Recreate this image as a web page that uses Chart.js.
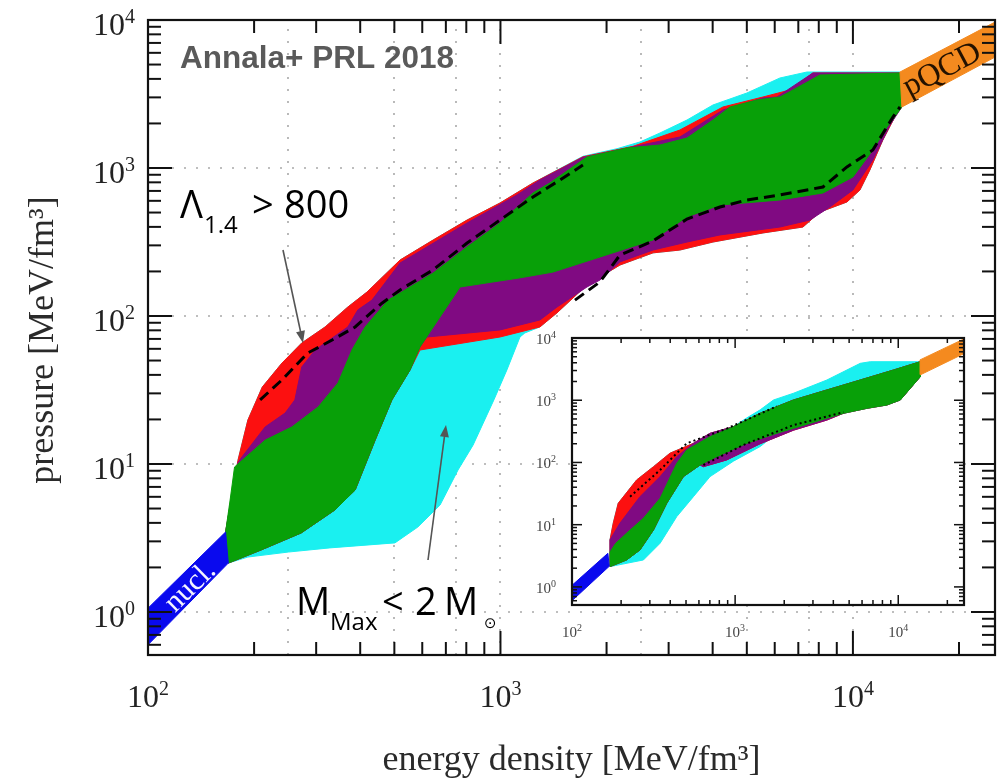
<!DOCTYPE html>
<html>
<head>
<meta charset="utf-8">
<script src="https://cdn.jsdelivr.net/npm/chart.js@4.4.0/dist/chart.umd.min.js"></script>
<style>
  html, body { margin: 0; padding: 0; background: #fff; }
  #wrap { position: relative; width: 1003px; height: 781px; }
  #main { position: absolute; left: 0; top: 0; }
  #inset { position: absolute; left: 520px; top: 322px; }
</style>
</head>
<body>
<div id="wrap">
  <canvas id="main" width="1003" height="781"></canvas>
  <canvas id="inset" width="460" height="330"></canvas>
</div>
<script>
// energy density e [MeV/fm^3] vs pressure p [MeV/fm^3]
const xGrid = [250, 500, 750, 1000, 2500, 5000, 7500, 10000];
const yGrid = [1, 10, 100, 1000];
const xDecades = [2, 3, 4];
const yDecades = [0, 1, 2, 3, 4];

const nuclE = [100, 166, 169, 100];
const nuclP = [1.06, 3.47, 2.14, 0.60];
const pqcdE = [13600, 27000, 27000, 13770];
const pqcdP = [4450, 10500, 6100, 2584];

// main panel bands (closed outlines)
const cyanE = [166,174,180,192,211,240,273,318,369,418,519,644,804,997,1237,1714,2141,2487,2835,3382,4007,5002,6207,7405,13600,13770,13330,12160,11170,10470,9616,8062,7214,5556,4007,3229,2709,2183,1760,1447,1294,1173,1136,1043,958,836,758,674,583,502,328,250,192,169];
const cyanP = [3.47,6.67,10.6,19.8,33.1,48.1,65.7,84.3,115,145,239,326,445,580,792,1200,1350,1499,1724,2110,2665,3212,4056,4452,4452,2584,2353,1546,969,710,589,504,399,364,316,279,267,221,162,105,84.3,76.8,72.1,43.2,27.1,13.4,9.11,5.28,3.75,2.93,2.71,2.54,2.35,2.14];

const redE = [166,174,180,192,211,240,273,318,369,418,519,644,804,997,1237,1714,2376,3229,4279,5556,6626,7701,13600,13770,13330,12160,11170,10470,9616,8062,7214,5556,4007,3229,2709,2183,1760,1447,1294,997,591,554,492,441,387,339,272,209,169];
const redP = [3.47,6.67,10.6,19.8,33.1,48.1,65.7,84.3,115,145,239,326,445,580,792,1190,1400,1806,2584,3018,3365,4385,4385,2584,2353,1546,969,710,589,504,399,364,316,279,267,221,162,105,84.3,72.1,58.9,43.2,27.1,14.5,6.67,4.89,3.42,2.62,2.14];

const purpleE = [166,174,180,185,215,245,261,273,298,369,394,432,519,804,1114,1294,1714,2376,3229,4279,5556,6086,7701,13600,13770,12740,11390,10000,8606,7551,6207,4196,3382,2709,2183,1916,1760,1447,1294,997,619,591,554,492,441,387,339,272,209,169];
const purpleP = [3.47,6.67,10.2,11.2,17.8,22.1,27.1,45.2,58.9,84.3,110,128,228,425,657,830,1180,1390,1620,2466,2972,3018,4385,4385,2584,1952,1133,710,545,445,399,353,316,279,232,175,157,115,94,80.5,72.1,61.7,43.2,27.1,14.5,6.67,4.89,3.42,2.62,2.14];

const greenE = [166,171,176,215,256,304,346,379,413,480,519,644,804,997,1237,1381,1760,2285,2835,3382,4007,4479,5343,6207,6757,8062,13600,13770,12490,11390,10000,8222,6207,4196,3382,2709,2085,1409,1136,768,591,554,492,441,387,339,272,209,169];
const greenP = [3.47,5.71,9.54,14.5,17.8,24.3,35.3,58.9,84.3,128,143,195,293,425,678,792,1187,1365,1430,1594,2110,2584,2880,3018,3365,4250,4385,2584,1892,1323,869,678,608,562,467,326,267,198,181,157,61.7,43.2,27.1,14.5,6.67,4.89,3.42,2.62,2.14];

// tidal deformability contour (dashed)
const lamUpE = [208,240,284,333,387,461,519,644,804,997,1237,1475,1714];
const lamUpP = [27.1,37.0,56.2,68.8,84.3,122,150,205,311,445,637,830,1048];
const lamLowE = [1627,1916,2183,2709,3382,4196,5002,6207,8222,9616,11390,12990,13600];
const lamLowP = [128,170,258,321,452,545,608,657,744,1016,1323,2211,2584];

// inset panel bands
const iCyanE = [171,171,179,192,249,316,399,555,702,977,1179,1424,1719,2279,3651,5848,6733,13650,13650,10290,8526,6424,4618,2885,1802,1424,977,702,555,439,347,274,171];
const iCyanP = [3.65,5.7,10.6,22.1,52.3,85.6,141,203,294,376,520,700,1009,1294,2113,3917,4159,4159,2390,1009,839,741,617,426,294,180,105,59.2,28.2,13.5,5.04,2.71,2.12];
const iRedE = [171,171,179,192,249,316,399,555,702,977,1424,2279,3651,5848,9359,13650,13650,10290,8526,6424,4618,3651,2279,1424,889,639,610,482,381,316,261,216,171];
const iRedP = [3.65,5.7,10.6,22.1,52.3,85.6,141,203,294,376,617,1009,1462,2113,3062,4159,2390,1009,839,741,617,480,330,200,110,85.6,91,59.2,22.1,8.24,3.93,2.71,2.12];
const iPurpleE = [171,171,197,261,347,439,555,702,977,1424,2279,3651,5848,9359,13650,13650,10290,8526,6424,4618,3651,2279,1424,889,639,610,482,381,316,261,216,171];
const iPurpleP = [3.65,5.7,10.6,28.2,59.2,124,203,294,376,617,1009,1462,2113,3062,4159,2390,1009,839,741,617,480,330,200,110,85.6,91,59.2,22.1,8.24,3.93,2.71,2.12];
const iGreenE = [171,185,216,274,347,439,505,702,977,1424,2279,3651,5848,9359,13650,13650,10290,8526,6424,4618,2885,1802,1179,772,610,482,381,316,261,216,171];
const iGreenP = [3.65,5.0,7.3,12.7,26.6,97,159,260,376,617,1009,1462,2113,3062,4159,2390,1009,839,741,617,426,294,203,124,91,59.2,22.1,8.24,3.93,2.71,2.12];
const iLamUpE = [227,347,505,889,1802];
const iLamUpP = [28.2,75.8,203,350,800];
const iLamLowE = [639,1125,2279,4618];
const iLamLowP = [91,191,400,640];

const C = {
  cyan: '#1af0f0', red: '#fc1010', purple: '#800a82', green: '#08a008',
  blue: '#0a0aee', orange: '#f48a1f'
};
const serif = '"Liberation Serif", "Times New Roman", serif';
const sans = '"Open Sans", "Noto Sans", sans-serif';

const pts = (E, P) => E.map((e, i) => ({ x: e, y: P[i] }));

function band(E, P, color, order) {
  const d = pts(E, P);
  d.push(d[0]);
  return {
    data: d, fill: 'shape', backgroundColor: color, borderColor: color,
    borderWidth: 1, pointRadius: 0, tension: 0, order
  };
}

function contour(E, P, width, dash) {
  return {
    data: pts(E, P), fill: false, borderColor: '#000', borderWidth: width,
    borderDash: dash, pointRadius: 0, tension: 0, order: 0
  };
}

function logTicks(min, max) {
  const out = [];
  for (let d = Math.floor(Math.log10(min)); d <= Math.ceil(Math.log10(max)); d++) {
    for (let m = 1; m <= 9; m++) {
      const v = m * Math.pow(10, d);
      if (v >= min * 0.999 && v <= max * 1.001) out.push({ v, major: m === 1 });
    }
  }
  return out;
}

function seg(ctx, x0, y0, x1, y1) {
  ctx.beginPath(); ctx.moveTo(x0, y0); ctx.lineTo(x1, y1); ctx.stroke();
}

function powLabel(ctx, exp, x, y, align, f) {
  ctx.font = f.base + 'px ' + serif;
  const w1 = ctx.measureText('10').width;
  ctx.font = f.sup + 'px ' + serif;
  const w2 = ctx.measureText(String(exp)).width;
  const left = align === 'right' ? x - w1 - w2 : x - (w1 + w2) / 2;
  ctx.textAlign = 'left';
  ctx.textBaseline = 'alphabetic';
  ctx.font = f.base + 'px ' + serif;
  ctx.fillText('10', left, y);
  ctx.font = f.sup + 'px ' + serif;
  ctx.fillText(String(exp), left + w1, y - f.rise);
}

// grid, inward ticks, frame and power-of-ten labels
function frame(s) {
  return {
    id: 'logframe',
    beforeDatasetsDraw(chart) {
      const { ctx, chartArea: a, scales: { x, y } } = chart;
      ctx.save();
      if (s.background) {
        ctx.fillStyle = s.background;
        ctx.fillRect(a.left, a.top, a.right - a.left, a.bottom - a.top);
      }
      if (s.grid) {
        ctx.strokeStyle = '#a9a9a9';
        ctx.lineWidth = 1.6;
        ctx.setLineDash([2, 10]);
        xGrid.forEach(v => {
          const p = Math.round(x.getPixelForValue(v));
          seg(ctx, p, a.bottom, p, a.top);
        });
        yGrid.forEach(v => {
          const p = Math.round(y.getPixelForValue(v));
          seg(ctx, a.left, p, a.right, p);
        });
      }
      ctx.restore();
    },
    afterDraw(chart) {
      const { ctx, chartArea: a, scales: { x, y } } = chart;
      ctx.save();
      ctx.strokeStyle = '#111';
      ctx.lineWidth = s.tickWidth;
      logTicks(x.min, x.max).forEach(t => {
        const p = x.getPixelForValue(t.v), L = t.major ? s.major : s.minor;
        seg(ctx, p, a.bottom, p, a.bottom - L);
        seg(ctx, p, a.top, p, a.top + L);
      });
      logTicks(y.min, y.max).forEach(t => {
        const p = y.getPixelForValue(t.v), L = t.major ? s.major : s.minor;
        seg(ctx, a.left, p, a.left + L, p);
        seg(ctx, a.right, p, a.right - L, p);
      });
      ctx.lineWidth = s.frameWidth;
      ctx.strokeRect(a.left, a.top, a.right - a.left, a.bottom - a.top);

      ctx.fillStyle = s.labelColor;
      xDecades.forEach(d => powLabel(ctx, d, x.getPixelForValue(Math.pow(10, d)), a.bottom + s.xLabelDy, 'center', s.font));
      yDecades.forEach(d => powLabel(ctx, d, a.left - s.yLabelDx, y.getPixelForValue(Math.pow(10, d)) + s.yLabelDy, 'right', s.font));
      ctx.restore();
    }
  };
}

function arrow(ctx, x0, y0, x1, y1) {
  const ang = Math.atan2(y1 - y0, x1 - x0), L = 12, W = 4.5;
  const c = Math.cos(ang), sn = Math.sin(ang);
  seg(ctx, x0, y0, x1 - L * 0.7 * c, y1 - L * 0.7 * sn);
  ctx.beginPath();
  ctx.moveTo(x1, y1);
  ctx.lineTo(x1 - L * c + W * sn, y1 - L * sn - W * c);
  ctx.lineTo(x1 - L * c - W * sn, y1 - L * sn + W * c);
  ctx.closePath();
  ctx.fill();
}

function text(ctx, str, x, y, size, font, color) {
  ctx.font = size + 'px ' + font;
  ctx.fillStyle = color;
  ctx.textAlign = 'left';
  ctx.textBaseline = 'alphabetic';
  ctx.fillText(str, x, y);
}

// labels that belong to the main panel only
const notes = {
  id: 'notes',
  afterDraw(chart) {
    const { ctx, chartArea: a, scales: { x, y } } = chart;
    ctx.save();

    // band names, rotated along each band
    ctx.beginPath();
    ctx.rect(a.left, a.top, a.right - a.left, a.bottom - a.top);
    ctx.clip();
    const nx = nuclE.map(v => x.getPixelForValue(v)), ny = nuclP.map(v => y.getPixelForValue(v));
    const cx = (nx[0] + nx[1] + nx[2] + nx[3]) / 4, cy = (ny[0] + ny[1] + ny[2] + ny[3]) / 4;
    ctx.translate(cx + 3, cy);
    ctx.rotate(Math.atan2(ny[1] - ny[0], nx[1] - nx[0]));
    ctx.font = '30px ' + serif;
    ctx.fillStyle = '#f4f4ff';
    ctx.textAlign = 'center';
    ctx.textBaseline = 'middle';
    ctx.fillText('nucl.', 0, 0);
    ctx.setTransform(1, 0, 0, 1, 0, 0);

    const qx = pqcdE.map(v => x.getPixelForValue(v)), qy = pqcdP.map(v => y.getPixelForValue(v));
    const qa = Math.atan2(qy[1] - qy[0], qx[1] - qx[0]);
    ctx.translate((qx[0] + qx[3]) / 2 + 4 * Math.cos(qa), (qy[0] + qy[3]) / 2 + 4 * Math.sin(qa));
    ctx.rotate(qa);
    ctx.font = '32px ' + serif;
    ctx.fillStyle = '#241200';
    ctx.textAlign = 'left';
    ctx.textBaseline = 'middle';
    ctx.fillText('pQCD', 0, 2);
    ctx.restore();
    ctx.save();

    text(ctx, 'Annala+ PRL 2018', 180, 68, 'bold 31.5', '"Liberation Sans", Arial, sans-serif', '#5a5a5a');

    text(ctx, 'Λ', 180, 218, 38, sans, '#000');
    text(ctx, '1.4', 204, 233, 24, sans, '#000');
    text(ctx, '>', 252, 218, 38, sans, '#000');
    text(ctx, '800', 284, 218, 38, sans, '#000');

    text(ctx, 'M', 296, 615, 38, sans, '#000');
    text(ctx, 'Max', 330, 630, 24, sans, '#000');
    text(ctx, '<', 382, 615, 38, sans, '#000');
    text(ctx, '2', 415, 615, 38, sans, '#000');
    text(ctx, 'M', 444, 615, 38, sans, '#000');
    text(ctx, '⊙', 484, 628, 15, '"DejaVu Sans", sans-serif', '#000');

    ctx.strokeStyle = '#555';
    ctx.fillStyle = '#555';
    ctx.lineWidth = 1.6;
    arrow(ctx, 283, 250, 303, 343);
    arrow(ctx, 428, 560, 446, 425);

    // axis titles
    ctx.fillStyle = '#2a2a2a';
    ctx.font = '36px ' + serif;
    ctx.textAlign = 'center';
    ctx.textBaseline = 'alphabetic';
    ctx.fillText('energy density [MeV/fm³]', (a.left + a.right) / 2, 770);
    ctx.translate(53, 340);
    ctx.rotate(-Math.PI / 2);
    ctx.fillText('pressure [MeV/fm³]', 0, 0);
    ctx.restore();
  }
};

function panel(canvas, sets, padding, style, extra) {
  return new Chart(canvas, {
    type: 'line',
    data: { datasets: sets },
    options: {
      responsive: false,
      animation: false,
      devicePixelRatio: 1,
      events: [],
      layout: { padding },
      plugins: { legend: { display: false }, tooltip: { enabled: false } },
      scales: {
        x: { type: 'logarithmic', min: 100, max: 25300, display: false },
        y: { type: 'logarithmic', min: 0.512, max: 10000, display: false }
      }
    },
    plugins: [frame(style)].concat(extra)
  });
}

panel(document.getElementById('main'), [
  band(cyanE, cyanP, C.cyan, 6),
  band(redE, redP, C.red, 5),
  band(purpleE, purpleP, C.purple, 4),
  band(greenE, greenP, C.green, 3),
  band(nuclE, nuclP, C.blue, 2),
  band(pqcdE, pqcdP, C.orange, 2),
  contour(lamUpE, lamUpP, 3, [11, 6]),
  contour(lamLowE, lamLowP, 3, [11, 6])
], { left: 148, right: 8, top: 20, bottom: 126 }, {
  grid: true, background: null, tickWidth: 2, frameWidth: 2.2, major: 24, minor: 13,
  labelColor: '#222', xLabelDy: 52, yLabelDx: 13, yLabelDy: 15,
  font: { base: 32, sup: 20, rise: 12 }
}, [notes]);

panel(document.getElementById('inset'), [
  band(iCyanE, iCyanP, C.cyan, 6),
  band(iRedE, iRedP, C.red, 5),
  band(iPurpleE, iPurpleP, C.purple, 4),
  band(iGreenE, iGreenP, C.green, 3),
  band(nuclE, nuclP, C.blue, 2),
  band(pqcdE, pqcdP, C.orange, 2),
  contour(iLamUpE, iLamUpP, 2, [2, 3]),
  contour(iLamLowE, iLamLowP, 2, [2, 3])
], { left: 52, right: 16, top: 16, bottom: 47 }, {
  grid: false, background: '#fff', tickWidth: 1.5, frameWidth: 2.2, major: 10, minor: 5,
  labelColor: '#444', xLabelDy: 32, yLabelDx: 16, yLabelDy: 6,
  font: { base: 15, sup: 10, rise: 6 }
}, []);
</script>
</body>
</html>
